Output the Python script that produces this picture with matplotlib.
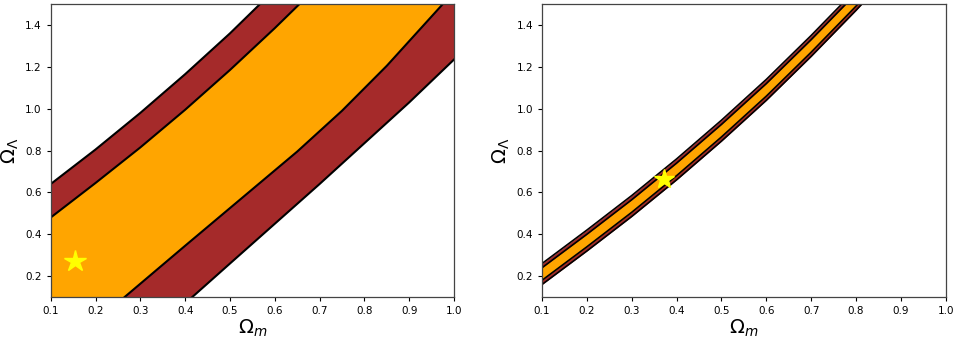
import matplotlib
matplotlib.use("Agg")
import matplotlib.pyplot as plt

# ---- data -----------------------------------------------------------------
# left panel: band boundaries as (Omega_m, Omega_Lambda) samples
L_OU_X = [0.10, 0.20, 0.30, 0.40, 0.50, 0.567]
L_OU_Y = [0.64, 0.805, 0.98, 1.165, 1.36, 1.50]
L_IU_X = [0.10, 0.20, 0.30, 0.40, 0.50, 0.60, 0.655]
L_IU_Y = [0.48, 0.645, 0.815, 0.995, 1.185, 1.385, 1.50]
L_IL_X = [0.265, 0.40, 0.55, 0.65, 0.75, 0.85, 0.975]
L_IL_Y = [0.10, 0.345, 0.615, 0.795, 0.99, 1.205, 1.50]
L_OL_X = [0.416, 0.50, 0.60, 0.70, 0.80, 0.90, 1.00]
L_OL_Y = [0.10, 0.26, 0.45, 0.64, 0.835, 1.03, 1.235]
L_STAR = (0.154, 0.272)

# right panel: narrow band on a common Omega_m grid
R_X = [0.10, 0.20, 0.30, 0.40, 0.50, 0.60, 0.70, 0.80, 0.85]
R_OU = [0.26, 0.42, 0.585, 0.76, 0.945, 1.14, 1.35, 1.57, 1.685]
R_IU = [0.24, 0.40, 0.565, 0.74, 0.925, 1.12, 1.33, 1.55, 1.665]
R_IL = [0.18, 0.34, 0.505, 0.68, 0.865, 1.06, 1.27, 1.49, 1.605]
R_OL = [0.16, 0.32, 0.485, 0.66, 0.845, 1.04, 1.25, 1.47, 1.585]
R_STAR = (0.373, 0.666)

XLIM = (0.1, 1.0)
YLIM = (0.1, 1.5)
XTICKS = [0.1, 0.2, 0.3, 0.4, 0.5, 0.6, 0.7, 0.8, 0.9, 1.0]
YTICKS = [0.2, 0.4, 0.6, 0.8, 1.0, 1.2, 1.4]

RED = "#a52a2a"
ORANGE = "#ffa500"
STAR = "#ffff00"

fig = plt.figure(figsize=(9.57, 3.41), dpi=100)
axL = fig.add_axes([0.053, 0.129, 0.4214, 0.859])
axR = fig.add_axes([0.5664, 0.129, 0.4218, 0.859])

# left: polygons closed through the axes corners
x0, x1 = XLIM
y0, y1 = YLIM
red_x = L_OU_X + [x1] + L_OL_X[::-1] + [x0]
red_y = L_OU_Y + [y1] + L_OL_Y[::-1] + [y0]
axL.fill(red_x, red_y, color=RED, lw=0)
org_x = L_IU_X + L_IL_X[::-1] + [x0]
org_y = L_IU_Y + L_IL_Y[::-1] + [y0]
axL.fill(org_x, org_y, color=ORANGE, lw=0)
for xs, ys in [(L_OU_X, L_OU_Y), (L_IU_X, L_IU_Y), (L_IL_X, L_IL_Y), (L_OL_X, L_OL_Y)]:
    axL.plot(xs, ys, color="black", lw=1.5)
axL.plot(*L_STAR, marker="*", color=STAR, ms=16, mec=STAR)

# right
axR.fill_between(R_X, R_OL, R_OU, color=RED, lw=0)
axR.fill_between(R_X, R_IL, R_IU, color=ORANGE, lw=0)
for ys in [R_OU, R_IU, R_IL, R_OL]:
    axR.plot(R_X, ys, color="black", lw=1.2)
axR.plot(*R_STAR, marker="*", color=STAR, ms=15, mec=STAR)

for ax in (axL, axR):
    ax.set_xlim(*XLIM)
    ax.set_ylim(*YLIM)
    ax.set_xticks(XTICKS)
    ax.set_yticks(YTICKS)
    ax.tick_params(labelsize=7.5, length=3, width=0.8)
    ax.set_xlabel(r"$\Omega_m$", fontsize=14, labelpad=1)
    ax.set_ylabel(r"$\Omega_\Lambda$", fontsize=14, labelpad=3)
    for s in ax.spines.values():
        s.set_color("#444444")
        s.set_linewidth(0.9)

fig.savefig("out.png", dpi=100)
